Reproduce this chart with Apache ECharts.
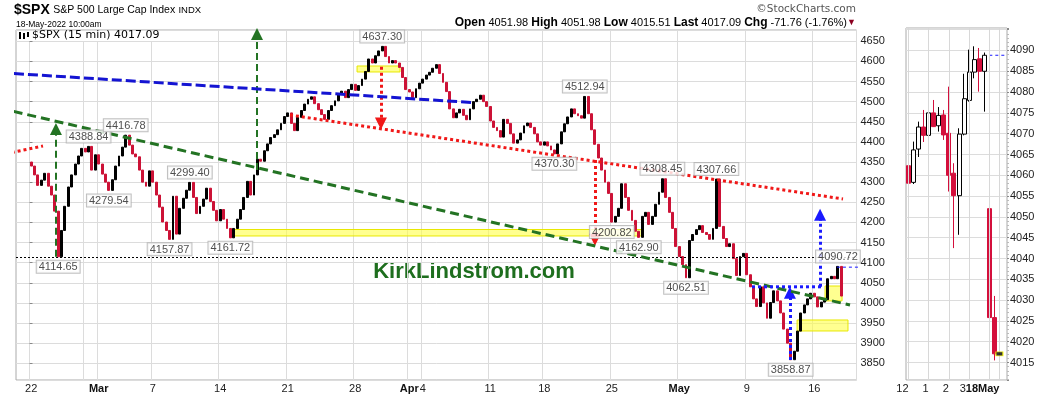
<!DOCTYPE html>
<html>
<head>
<meta charset="utf-8">
<script src="https://cdn.jsdelivr.net/npm/echarts@6/dist/echarts.min.js"></script>
<style>html,body{margin:0;padding:0;background:#fff;}#chart{width:1050px;height:396px;}</style>
</head>
<body>
<div id="chart"></div>
<script>
// ================= DATA =================
const tradingDays = ['02-22','02-23','02-24','02-25','02-28','03-01','03-02','03-03','03-04','03-07','03-08','03-09','03-10','03-11','03-14','03-15','03-16','03-17','03-18','03-21','03-22','03-23','03-24','03-25','03-28','03-29','03-30','03-31','04-01','04-04','04-05','04-06','04-07','04-08','04-11','04-12','04-13','04-14','04-18','04-19','04-20','04-21','04-22','04-25','04-26','04-27','04-28','04-29','05-02','05-03','05-04','05-05','05-06','05-09','05-10','05-11','05-12','05-13','05-16','05-17','05-18'];
const spxOpen = 4350;
// price at the end of each quarter of each trading day
const spxQuarterCloses = [
 [4340,4318,4292,4305],[4322,4290,4268,4228],[4114.65,4180,4240,4288],[4318,4345,4365,4384],
 [4375,4388.84,4330,4368],[4345,4320,4300,4279.54],[4306,4340,4365,4387],[4416.78,4392,4370,4363],
 [4330,4300,4290,4328],[4300,4268,4238,4201],[4180,4157.87,4265,4171],[4235,4260,4280,4299.40],
 [4262,4222,4240,4258],[4285,4252,4230,4204],[4232,4208,4185,4161.72],[4185,4208,4232,4262],
 [4302,4268,4318,4357],[4352,4378,4395,4411],[4418,4430,4446,4463],[4472,4446,4428,4461],
 [4478,4494,4506,4512],[4495,4480,4468,4456],[4478,4490,4502,4520],[4526,4510,4530,4543],
 [4528,4540,4556,4575],[4606,4596,4614,4626],[4637.30,4612,4596,4602],[4596,4585,4560,4530],
 [4524,4510,4532,4546],[4556,4566,4573,4583],[4592,4570,4548,4525],[4482,4460,4472,4481],
 [4466,4455,4482,4500],[4506,4516,4500,4488],[4452,4436,4428,4412],[4456,4446,4420,4397],
 [4405,4422,4440,4447],[4436,4420,4400,4392],[4400,4390,4380,4370.30],[4395,4425,4445,4462],
 [4482,4470,4465,4459],[4512.94,4470,4430,4394],[4360,4330,4300,4272],[4200.82,4215,4235,4296],
 [4262,4230,4205,4178],[4162.90,4215,4225,4195],[4215,4245,4275,4308.45],[4262,4225,4185,4140],
 [4115,4095,4062.51,4155],[4170,4182,4192,4175],[4170,4158,4185,4307.66],[4190,4160,4140,4147],
 [4110,4068,4115,4123],[4070,4040,4010,3991],[4040,4000,3962,4001],[4030,4005,3975,3935],
 [3900,3858.87,3880,3930],[3975,3995,4010,4024],[4015,3990,4002,4008],[4060,4066,4060,4090.72],
 [4017.09,null,null,null]
];
const xTickDays   = ['02-22','02-28','03-01','03-07','03-14','03-21','03-28','04-01','04-04','04-11','04-18','04-25','05-02','05-09','05-16'];
const xTickLabels = ['22','','{b|Mar}','7','14','21','28','{b|Apr}','4','11','18','25','{b|May}','9','16'];
// [day index, quarter, side] of the labelled highs / lows
const calloutPoints = [[2,0,'bottom'],[4,1,'top'],[5,3,'bottom'],[7,0,'top'],[10,1,'bottom'],[11,3,'top'],
 [14,3,'bottom'],[26,0,'top'],[38,3,'bottom'],[41,0,'top'],[43,0,'bottom'],[45,0,'bottom'],[46,3,'top'],
 [48,2,'bottom'],[50,3,'top'],[56,1,'bottom'],[59,3,'top']];
const prevClose = 4088.85;
const lastPrice = 4017.09;
const lowReference = 4114.65;
// annotation lines: [trading-day position, price]
const trendRedShort = [[-2.185,4367.5],[1.0,4389.9]];
const trendRedLong  = [[19.29,4466.9],[60.25,4258.2]];
const trendBlue     = [[-2.185,4572],[32.99,4497.5]];
const trendGreen    = [[-2.185,4483.5],[60.77,3994.8]];
const greenArrows = [[1.96,4114.65,4432],[16.85,4330,4668]];
const redArrows   = [[26.03,4587,4446],[41.88,4355,4157]];
const blueArrows  = [[56.32,3858,4025],[58.55,4040,4219]];
const blueLevel   = [[53.51,4040],[58.7,4040]];
const prevCloseSpan = [59.8, 61.51];
const yellowZones = [[24.26,27.44,4588.6,4573.7],[15.0,45.37,4182.4,4166.3],[58.92,60.18,4042,4005],[56.85,60.62,3957.6,3930.3]];
// right panel: 15-min candles May 17 12:00 .. May 18 10:00  [open, close, low, high]
const rtSlots = ['12:00','12:15','12:30','12:45','13:00','13:15','13:30','13:45','14:00','14:15','14:30','14:45','15:00','15:15','15:30','15:45','18 9:30','18 9:45','18 10:00','18 10:15'];
const rtCandles = [
 [4062.3,4058.1,4054.0,4063.3],[4058.3,4066.1,4057.9,4068.1],[4066.3,4071.6,4064.4,4072.9],[4071.6,4069.6,4068.0,4075.7],
 [4069.6,4075.0,4062.5,4075.9],[4075.0,4071.7,4071.6,4078.1],[4071.9,4074.4,4070.5,4076.4],[4074.5,4069.7,4068.5,4075.7],
 [4070.1,4060.0,4056.1,4081.3],[4060.5,4055.1,4042.5,4062.9],[4055.1,4069.9,4045.7,4071.3],[4069.9,4078.4,4069.6,4084.4],
 [4078.0,4084.8,4077.7,4090.2],[4084.8,4087.8,4083.3,4091.0],[4088.0,4085.0,4080.1,4090.6],[4085.0,4088.85,4075.3,4089.5],
 [4051.98,4025.8,4022.7,4051.98],[4025.8,4017.09,4015.51,4031.0]
];
const rtTickLabels = {'12:00':'12','13:00':'1','14:00':'2','18 10:00':'3{b|18May}'};
const rtGridSlots = ['12:00','13:00','14:00','15:00','18 9:30','18 10:00'];

// ================= BUILD =================
const PAD_L = 4, PER_DAY = 4, PAD_R = 1;
const cats = [];
for (let i = 0; i < PAD_L; i++) cats.push('padL' + i);
tradingDays.forEach(d => { for (let q = 0; q < PER_DAY; q++) cats.push(d + '#' + q); });
for (let i = 0; i < PAD_R; i++) cats.push('padR' + i);

const candles = cats.map(() => ['-','-','-','-']);
let prev = spxOpen;
spxQuarterCloses.forEach((day, d) => day.forEach((c, q) => {
  if (c == null) return;
  candles[PAD_L + d * PER_DAY + q] = [prev, c, Math.min(prev, c), Math.max(prev, c)];
  prev = c;
}));

const mainLabelMap = {};
const mainGridSet = new Set();
xTickDays.forEach((d, i) => {
  const s = PAD_L + tradingDays.indexOf(d) * PER_DAY;
  mainGridSet.add(s);
  if (xTickLabels[i]) mainLabelMap[s] = xTickLabels[i];
});

const callouts = calloutPoints.map(([d, q, side]) => ({
  value: [d + (q + 0.5) / PER_DAY, spxQuarterCloses[d][q]],
  label: { position: side }
}));

const rtData = rtSlots.map((s, i) => rtCandles[i] ? rtCandles[i] : ['-','-','-','-']);

const GREEN = '#237323', RED = '#f01818', BLUE = '#1414d2', BLUE2 = '#1a1aff';
const FONT = '"Liberation Sans", Arial, sans-serif';
const plain = (v) => String(v);

function trend(pts, color, dash, width) {
  return { type: 'line', xAxisIndex: 1, yAxisIndex: 0, data: pts, symbol: 'none', clip: false, silent: true,
    z: 5, lineStyle: { color: color, type: dash, width: width } };
}
function arrows(list, color, dash, width) {
  return { type: 'line', xAxisIndex: 1, yAxisIndex: 0, data: [], silent: true, z: 6,
    markLine: { silent: true, animation: false, symbol: ['none', 'triangle'], symbolSize: [12, 12],
      label: { show: false }, emphasis: { disabled: true },
      lineStyle: { color: color, type: dash, width: width },
      data: list.map(a => [{ coord: [a[0], a[1]] }, { coord: [a[0], a[2]] }]) } };
}

const option = {
  animation: false,
  textStyle: { fontFamily: FONT },
  grid: [
    { left: 16, right: 193.5, top: 30, bottom: 16, show: true, borderColor: '#aaa', borderWidth: 1, backgroundColor: '#fff' },
    { left: 906, right: 43, top: 28, bottom: 16, show: true, borderColor: '#aaa', borderWidth: 1, backgroundColor: '#fff' }
  ],
  xAxis: [
    { type: 'category', gridIndex: 0, data: cats, boundaryGap: true,
      axisLine: { show: false }, axisTick: { show: false },
      axisLabel: { interval: (i) => !!mainLabelMap[i], formatter: (v, i) => mainLabelMap[i] || '',
        fontSize: 11, color: '#222', margin: 3, fontFamily: FONT, showMinLabel: true, showMaxLabel: true,
        rich: { b: { fontWeight: 'bold', fontSize: 11, color: '#111', fontFamily: FONT } } },
      splitLine: { show: true, interval: (i) => mainGridSet.has(i), lineStyle: { color: '#dcdcdc', width: 1 } } },
    { type: 'value', gridIndex: 0, min: -1, max: 61.25, show: false },
    { type: 'category', gridIndex: 1, data: rtSlots, boundaryGap: true,
      axisLine: { show: false }, axisTick: { show: false }, splitLine: { show: false },
      axisLabel: { interval: (i, v) => !!rtTickLabels[v], formatter: (v) => rtTickLabels[v] || '',
        fontSize: 11, color: '#222', margin: 3, align: 'right', fontFamily: FONT, showMinLabel: true, showMaxLabel: true,
        hideOverlap: false,
        rich: { b: { fontWeight: 'bold', fontSize: 11, color: '#111', fontFamily: FONT } } } }
  ],
  yAxis: [
    { type: 'value', gridIndex: 0, position: 'right', min: 3808.5, max: 4678, splitNumber: 17,
      minInterval: 50, maxInterval: 50,
      axisLine: { show: false }, axisTick: { show: true, length: 3, lineStyle: { color: '#888' } },
      axisLabel: { showMinLabel: false, showMaxLabel: false, fontSize: 11, color: '#222', margin: 4, fontFamily: FONT, formatter: plain },
      splitLine: { lineStyle: { color: '#dcdcdc', width: 1 } } },
    { type: 'value', gridIndex: 1, position: 'right', min: 4010.8, max: 4095.4, splitNumber: 17,
      minInterval: 5, maxInterval: 5,
      axisLine: { show: false }, axisTick: { show: true, length: 2, lineStyle: { color: '#888' } },
      minorTick: { show: true, splitNumber: 5, length: 2, lineStyle: { color: '#bbb' } },
      axisLabel: { showMinLabel: false, showMaxLabel: false, fontSize: 11, color: '#222', margin: 3, fontFamily: FONT,
        formatter: (v) => (v > 4094 ? '' : String(v)) },
      splitLine: { lineStyle: { color: '#dcdcdc', width: 1 } } }
  ],
  series: [
    { type: 'candlestick', name: 'SPX', xAxisIndex: 0, yAxisIndex: 0, data: candles, barWidth: 2.4, z: 3, silent: true,
      itemStyle: { color: '#000', color0: '#cc1236', borderColor: '#000', borderColor0: '#cc1236', borderWidth: 1 },
      markLine: { silent: true, symbol: 'none', label: { show: false }, animation: false,
        lineStyle: { color: '#000', type: [2, 2], width: 1 }, data: [{ yAxis: lowReference }] } },
    { type: 'line', xAxisIndex: 1, yAxisIndex: 0, data: [], silent: true, z: 4,
      markArea: { silent: true, itemStyle: { color: 'rgba(255,255,70,0.6)', borderColor: '#e8e800', borderWidth: 1 },
        data: yellowZones.map(zn => [{ coord: [zn[0], zn[2]] }, { coord: [zn[1], zn[3]] }]) } },
    trend(trendRedShort, RED, [3, 3], 3),
    trend(trendRedLong, RED, [3, 3], 3),
    trend(trendBlue, BLUE, [10, 4], 3),
    trend(trendGreen, GREEN, [9, 5], 3),
    trend(blueLevel, BLUE2, [3, 3], 3),
    trend([[prevCloseSpan[0], prevClose], [prevCloseSpan[1], prevClose]], BLUE2, [3, 3], 1),
    arrows(greenArrows, GREEN, [7, 4], 2),
    arrows(redArrows, RED, [3, 3], 3),
    arrows(blueArrows, BLUE2, [3, 3], 3),
    { type: 'scatter', xAxisIndex: 1, yAxisIndex: 0, symbolSize: 0, silent: true, z: 10, data: callouts,
      label: { show: true, formatter: (p) => p.value[1].toFixed(2), fontSize: 11, color: '#222', fontFamily: FONT,
        backgroundColor: '#fff', borderColor: '#b0b0b0', borderWidth: 1, padding: [1, 2, 0, 2], distance: 4 } },
    // right panel
    { type: 'line', xAxisIndex: 2, yAxisIndex: 1, data: [], silent: true, z: 1,
      markLine: { silent: true, symbol: 'none', label: { show: false }, animation: false,
        lineStyle: { color: '#d8d8d8', type: 'solid', width: 1 }, data: rtGridSlots.map(s => ({ xAxis: s })) } },
    { type: 'candlestick', xAxisIndex: 2, yAxisIndex: 1, data: rtData, barWidth: 4.5, z: 3, silent: true,
      itemStyle: { color: '#fff', color0: '#d40f3c', borderColor: '#000', borderColor0: '#d40f3c', borderWidth: 1 } },
    { type: 'line', xAxisIndex: 2, yAxisIndex: 1, data: [['18 9:30', prevClose], ['18 10:15', prevClose]], symbol: 'none',
      silent: true, z: 4, lineStyle: { color: BLUE2, type: [3, 3], width: 1 } },
    { type: 'scatter', xAxisIndex: 2, yAxisIndex: 1, data: [['18 10:00', lastPrice]], symbol: 'rect', symbolSize: [7, 4],
      silent: true, z: 6, itemStyle: { color: '#000', borderColor: '#ffff00', borderWidth: 1 } }
  ],
  graphic: [
    { type: 'text', left: 14, top: 3, silent: true,
      style: { text: '{a|$SPX} {b|S&P 500 Large Cap Index} {c|INDX}', fill: '#000',
        rich: { a: { font: 'bold 14px ' + FONT, fill: '#000' }, b: { font: '10.5px ' + FONT, fill: '#000' }, c: { font: '9.5px ' + FONT, fill: '#000' } } } },
    { type: 'text', left: 16, top: 20, silent: true, style: { text: '18-May-2022 10:00am', font: '8.5px ' + FONT, fill: '#000' } },
    { type: 'text', right: 194, top: 4, silent: true, style: { text: '\u00A9StockCharts.com', font: '10.5px "DejaVu Sans", sans-serif', fill: '#555' } },
    { type: 'text', right: 203, top: 17, silent: true,
      style: { text: '{k|Open} 4051.98 {k|High} 4051.98 {k|Low} 4015.51 {k|Last} 4017.09 {k|Chg} -71.76 (-1.76%)',
        font: '11px ' + FONT, fill: '#000', rich: { k: { font: 'bold 12px ' + FONT, fill: '#000' } } } },
    { type: 'text', right: 194, top: 18, silent: true, style: { text: '\u25BC', font: '9px ' + FONT, fill: '#8b0020' } },
    { type: 'rect', left: 17, top: 31, silent: true, z: 100, shape: { width: 148, height: 10 }, style: { fill: '#fff' } },
    { type: 'text', left: 32, top: 30, silent: true, z: 101,
      style: { text: '$SPX (15 min) 4017.09', font: '11px "DejaVu Sans", sans-serif', fill: '#000' } },
    { type: 'rect', left: 19, top: 32, silent: true, z: 101, shape: { width: 2, height: 7 }, style: { fill: '#000' } },
    { type: 'rect', left: 23, top: 33, silent: true, z: 101, shape: { width: 2, height: 6 }, style: { fill: '#000' } },
    { type: 'rect', left: 27, top: 32, silent: true, z: 101, shape: { width: 2, height: 5 }, style: { fill: '#000' } },
    { type: 'text', x: 474, y: 272, silent: true,
      style: { text: 'KirkLindstrom.com', font: 'bold 22px ' + FONT, fill: '#1e6e1e', textAlign: 'center', textVerticalAlign: 'middle' } }
  ]
};

const chart = echarts.init(document.getElementById('chart'), null, { renderer: 'canvas' });
chart.setOption(option);
</script>
</body>
</html>
